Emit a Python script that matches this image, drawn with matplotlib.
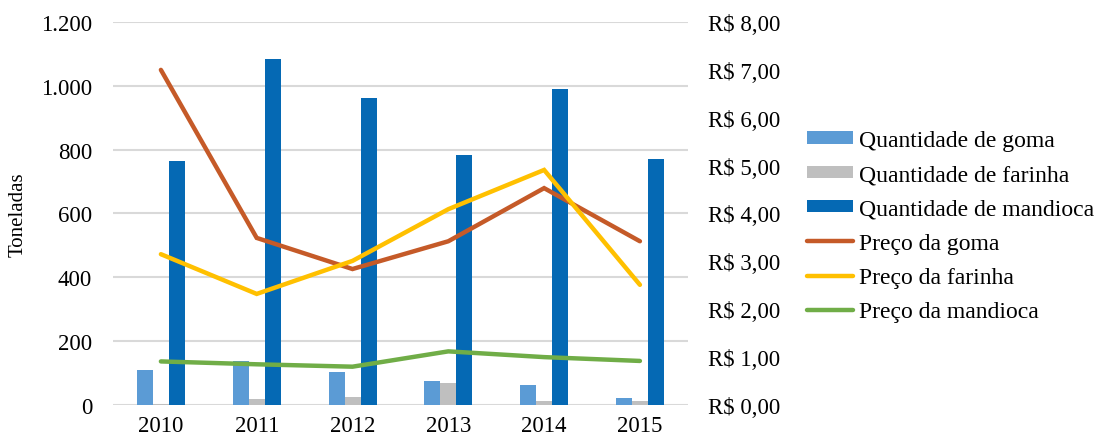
import numpy as np
import matplotlib

matplotlib.use("Agg")
import matplotlib.pyplot as plt
from matplotlib.ticker import FuncFormatter

plt.rcParams["font.family"] = ["Liberation Serif", "DejaVu Serif"]

YEARS = ["2010", "2011", "2012", "2013", "2014", "2015"]

# quantities (tonnes)
QTD_GOMA = [110, 138, 104, 75, 63, 22]
QTD_FARINHA = [2, 19, 26, 69, 12, 12]
QTD_MANDIOCA = [766, 1083, 963, 782, 990, 771]

# prices (R$)
PRECO_GOMA = [7.00, 3.49, 2.84, 3.42, 4.53, 3.42]
PRECO_FARINHA = [3.15, 2.32, 3.01, 4.09, 4.91, 2.51]
PRECO_MANDIOCA = [0.91, 0.85, 0.80, 1.12, 1.00, 0.92]

fig = plt.figure(figsize=(10.97, 4.39), dpi=100)
ax = fig.add_axes([0.103, 0.0752, 0.524, 0.8724])
ax2 = ax.twinx()

x = np.arange(len(YEARS))
w = 0.167
b1 = ax.bar(x - w, QTD_GOMA, w, color="#5B9BD5", label="Quantidade de goma", zorder=2)
b2 = ax.bar(x, QTD_FARINHA, w, color="#BFBFBF", label="Quantidade de farinha", zorder=2)
b3 = ax.bar(x + w, QTD_MANDIOCA, w, color="#0569B4", label="Quantidade de mandioca", zorder=2)

lw = 3.2
l1, = ax2.plot(x, PRECO_GOMA, color="#C55A28", lw=lw, solid_capstyle="round",
               solid_joinstyle="miter", label="Preço da goma")
l2, = ax2.plot(x, PRECO_FARINHA, color="#FFC000", lw=lw, solid_capstyle="round",
               solid_joinstyle="miter", label="Preço da farinha")
l3, = ax2.plot(x, PRECO_MANDIOCA, color="#70AD47", lw=lw, solid_capstyle="round",
               solid_joinstyle="miter", label="Preço da mandioca")

ax.set_xlim(-0.5, len(YEARS) - 0.5)
ax.set_ylim(0, 1200)
ax.set_yticks(range(0, 1201, 200))
ax.yaxis.set_major_formatter(FuncFormatter(lambda v, p: f"{int(v):,}".replace(",", ".")))
ax2.set_ylim(0, 8)
ax2.set_yticks(range(0, 9))
ax2.yaxis.set_major_formatter(FuncFormatter(lambda v, p: f"R$ {v:.2f}".replace(".", ",")))

ax.set_xticks(x)
ax.set_xticklabels(YEARS)
ax.grid(axis="y", color="#D9D9D9", lw=1.5, zorder=0)
ax.set_axisbelow(True)
for a in (ax, ax2):
    for s in a.spines.values():
        s.set_visible(False)
ax.tick_params(axis="both", length=0, labelsize=16.5, colors="black")
ax.tick_params(axis="y", pad=15)
ax.tick_params(axis="x", pad=7)
ax2.tick_params(axis="y", length=0, labelsize=16.5, pad=14.4)

ax.set_ylabel("Toneladas", fontsize=15, labelpad=10)

fig.legend(handles=[b1, b2, b3, l1, l2, l3], loc="center left",
           bbox_to_anchor=(0.7357, 0.483), frameon=False, fontsize=17,
           borderpad=0, borderaxespad=0,
           labelspacing=0.56, handlelength=1.95, handletextpad=0.25,
           handleheight=0.42)

fig.savefig("out.png", dpi=100)
